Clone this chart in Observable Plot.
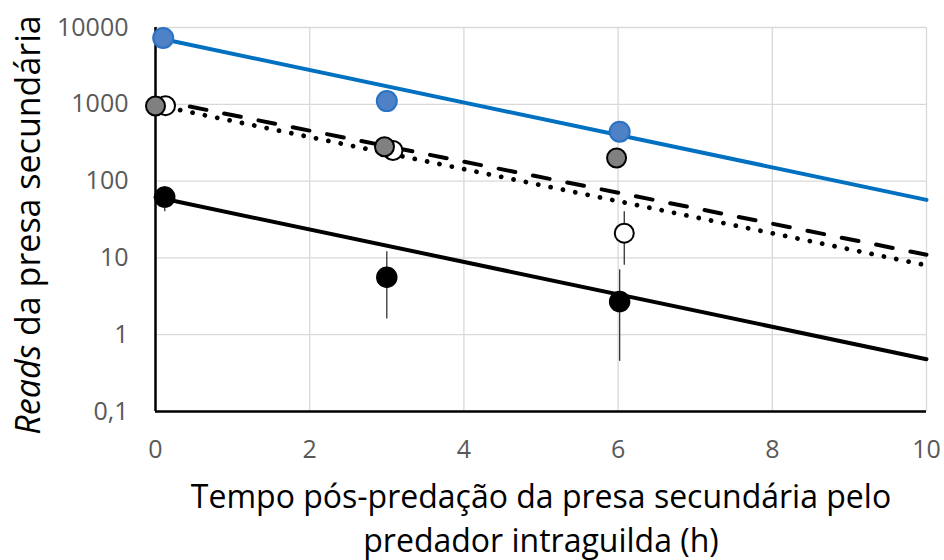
<!DOCTYPE html>
<html>
<head>
<meta charset="utf-8">
<script src="https://cdn.jsdelivr.net/npm/d3@7"></script>
<script src="https://cdn.jsdelivr.net/npm/@observablehq/plot@0.6"></script>
<style>
  html, body { margin: 0; padding: 0; background: #fff; }
  #wrap { position: relative; width: 944px; height: 560px; font-family: "Open Sans", sans-serif; }
  #chart { position: absolute; left: 0; top: 0; }
  #xtitle { position: absolute; left: 138px; width: 806px; top: 474px; text-align: center;
            font-size: 32px; line-height: 44px; color: #000; white-space: nowrap; }
</style>
</head>
<body>
<div id="wrap"><div id="chart"></div>
<div id="xtitle">Tempo pós-predação da presa secundária pelo<br>predador intraguilda (h)</div></div>
<script>
// ---- data ----
const xTicks = [0, 2, 4, 6, 8, 10];
const yTicks = [0.1, 1, 10, 100, 1000, 10000];
const yTickLabels = ["0,1", "1", "10", "100", "1000", "10000"];

const blueX = [0.1, 3.0, 6.02];
const blueY = [7300, 1100, 440];

const greyX = [0.0, 2.97, 5.98];
const greyY = [950, 280, 200];

const openX = [0.13, 3.08, 6.08];
const openY = [960, 250, 21];
const openLow = [null, null, 8];
const openHigh = [null, null, 40];

const blackX = [0.12, 3.0, 6.02];
const blackY = [62, 5.6, 2.7];
const blackLow = [40, 1.6, 0.45];
const blackHigh = [85, 12, 7];

// trend lines (value at x = 0 and x = 10)
const trendX = [0, 10];
const blueTrend = [7400, 57];
const greyTrend = [1150, 11];
const openTrend = [980, 8];
const blackTrend = [62, 0.48];

// ---- build tables ----
const pts = (xs, ys) => xs.map((x, i) => ({x, y: ys[i]}));
const line = ys => trendX.map((x, i) => ({x, y: ys[i]}));
const errs = (xs, lo, hi) => xs.map((x, i) => ({x, lo: lo[i], hi: hi[i]})).filter(d => d.lo != null);
const yLabelRows = yTicks.map((v, i) => ({v, label: yTickLabels[i]}));

const chart = Plot.plot({
  width: 944,
  height: 472,
  marginLeft: 155,
  marginRight: 18,
  marginTop: 27,
  marginBottom: 61,
  style: {fontFamily: "Open Sans, sans-serif", fontSize: "25px", color: "#595959", background: "transparent", overflow: "visible"},
  x: {domain: [0, 10], axis: null, label: null},
  y: {type: "log", domain: [0.1, 10000], axis: null, label: null},
  marks: [
    Plot.gridX(xTicks, {stroke: "#d9d9d9", strokeOpacity: 1, strokeWidth: 1.3}),
    Plot.gridY(yTicks, {stroke: "#d9d9d9", strokeOpacity: 1, strokeWidth: 1.3}),
    // tick labels
    Plot.text(xTicks, {x: d => d, y: () => 0.1, text: d => String(d), dy: 38, fontSize: 25, fill: "#595959", lineAnchor: "middle"}),
    Plot.text(yLabelRows, {x: () => 0, y: "v", text: "label", dx: -27, textAnchor: "end", fontSize: 25, fill: "#595959", lineAnchor: "middle"}),
    Plot.ruleX([0], {stroke: "#000", strokeWidth: 2.5}),
    Plot.ruleY([0.1], {stroke: "#000", strokeWidth: 2.5}),
    // trend lines
    Plot.line(line(blueTrend), {x: "x", y: "y", stroke: "#0070c0", strokeWidth: 4}),
    Plot.line(line(blackTrend), {x: "x", y: "y", stroke: "#000", strokeWidth: 4}),
    Plot.line(line(greyTrend), {x: "x", y: "y", stroke: "#000", strokeWidth: 4, strokeDasharray: "17,18"}),
    Plot.line(line(openTrend), {x: "x", y: "y", stroke: "#000", strokeWidth: 4.8, strokeDasharray: "0.01,12.6", strokeLinecap: "round"}),
    // error bars
    Plot.ruleX(errs(blackX, blackLow, blackHigh), {x: "x", y1: "lo", y2: "hi", stroke: "#333", strokeWidth: 1.3}),
    Plot.ruleX(errs(openX, openLow, openHigh), {x: "x", y1: "lo", y2: "hi", stroke: "#333", strokeWidth: 1.3}),
    // points
    Plot.dot(pts(openX, openY), {x: "x", y: "y", r: 9.5, fill: "#fff", stroke: "#000", strokeWidth: 2}),
    Plot.dot(pts(greyX, greyY), {x: "x", y: "y", r: 9.5, fill: "#808080", stroke: "#000", strokeWidth: 2}),
    Plot.dot(pts(blackX, blackY), {x: "x", y: "y", r: 10, fill: "#000", stroke: "#000", strokeWidth: 1.5}),
    Plot.dot(pts(blueX, blueY), {x: "x", y: "y", r: 10, fill: "#4f81c7", stroke: "#2a72c3", strokeWidth: 2})
  ]
});

// Y axis title with italic "Reads"
const svg = d3.select(chart);
const t = svg.append("text")
  .attr("transform", "translate(31,225) rotate(-90)")
  .attr("text-anchor", "middle")
  .attr("dominant-baseline", "middle")
  .attr("fill", "#000")
  .style("font-size", "34px")
  .style("font-family", "Open Sans, sans-serif");
t.append("tspan").style("font-style", "italic").text("Reads");
t.append("tspan").text(" da presa secundária");

document.getElementById("chart").appendChild(chart);
</script>
</body>
</html>
